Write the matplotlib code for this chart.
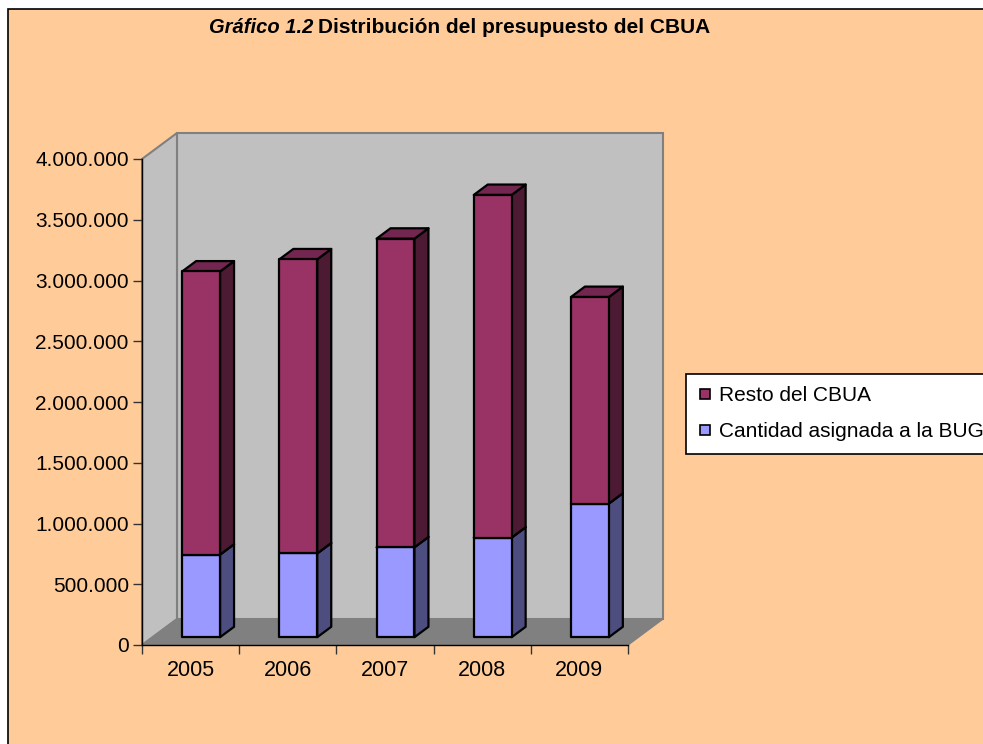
import matplotlib
matplotlib.use("Agg")
from matplotlib import pyplot as plt
from matplotlib.patches import Polygon, Rectangle
from matplotlib.lines import Line2D
from matplotlib.ticker import FixedLocator, FuncFormatter

plt.rcParams["font.family"] = ["Liberation Sans", "DejaVu Sans"]

years = ["2005", "2006", "2007", "2008", "2009"]
bug = [680000, 690000, 740000, 820000, 1100000]  # Cantidad asignada a la BUG
resto = [2330000, 2420000, 2540000, 2820000, 1700000]  # Resto del CBUA
y_ticks = [0, 500000, 1000000, 1500000, 2000000, 2500000, 3000000, 3500000, 4000000]
legend_labels = ["Resto del CBUA", "Cantidad asignada a la BUG"]

# depth of the 3d box (in data units) and where the bars sit in it
DX = 0.36
DY = 214000
F0, F1 = 0.3, 0.7
BAR_W = 0.39

colors = {
    "resto": ("#993366", "#4d1a33", "#73264f"),
    "bug": ("#9999ff", "#4d4d80", "#7373bf"),
}


def shift(pts, f):
    return [(x + f * DX, y + f * DY) for x, y in pts]


def draw_box(ax, x0, x1, y0, y1, cols, z):
    front, side, top = cols
    kw = dict(edgecolor="black", linewidth=1.6, clip_on=False, zorder=z, joinstyle="round")
    face = shift([(x0, y0), (x1, y0), (x1, y1), (x0, y1)], F0)
    right = shift([(x1, y0), (x1, y1)], F0) + shift([(x1, y1), (x1, y0)], F1)
    lid = shift([(x0, y1), (x1, y1)], F0) + shift([(x1, y1), (x0, y1)], F1)
    ax.add_patch(Polygon(right, closed=True, facecolor=side, **kw))
    ax.add_patch(Polygon(lid, closed=True, facecolor=top, **kw))
    ax.add_patch(Polygon(face, closed=True, facecolor=front, **kw))


fig = plt.figure(figsize=(9.83, 7.44), dpi=100, facecolor="white")
fig.add_artist(Rectangle((8 / 983, -0.05), 1.2, 1 - 9 / 744 + 0.05, transform=fig.transFigure,
                         facecolor="#ffcc99", edgecolor="black", linewidth=1.2, zorder=-10))

ax = fig.add_axes([142 / 983, 99 / 744, 486 / 983, 486 / 744])
ax.set_facecolor("none")
n = len(years)
ymax = y_ticks[-1]
ax.set_xlim(0, n)
ax.set_ylim(0, ymax)

wall_kw = dict(clip_on=False, linewidth=1.5, edgecolor="#808080", zorder=1)
ax.add_patch(Polygon(shift([(0, 0), (n, 0), (n, ymax), (0, ymax)], 1), facecolor="#c0c0c0", **wall_kw))
ax.add_patch(Polygon([(0, 0), (0, ymax)] + shift([(0, ymax), (0, 0)], 1), facecolor="#c0c0c0", **wall_kw))
ax.add_patch(Polygon([(0, 0), (n, 0)] + shift([(n, 0), (0, 0)], 1), facecolor="#808080",
                     clip_on=False, linewidth=1.0, edgecolor="#808080", zorder=1))

for i in range(n):
    c = i + 0.5
    x0, x1 = c - BAR_W / 2, c + BAR_W / 2
    draw_box(ax, x0, x1, 0, bug[i], colors["bug"], 3 + i)
    draw_box(ax, x0, x1, bug[i], bug[i] + resto[i], colors["resto"], 3 + i)

for s in ["top", "right"]:
    ax.spines[s].set_visible(False)
for s in ["left", "bottom"]:
    ax.spines[s].set_color("black")
    ax.spines[s].set_linewidth(1.0)
    ax.spines[s].set_zorder(2)

ax.yaxis.set_major_locator(FixedLocator(y_ticks))
ax.yaxis.set_major_formatter(FuncFormatter(lambda v, p: f"{v:,.0f}".replace(",", ".")))
ax.tick_params(axis="y", length=6.5, width=1.0, color="#333333", labelsize=15, pad=3)

ax.xaxis.set_major_locator(FixedLocator(list(range(n + 1))))
ax.xaxis.set_minor_locator(FixedLocator([i + 0.5 for i in range(n)]))
ax.set_xticklabels([""] * (n + 1))
ax.set_xticklabels(years, minor=True)
ax.tick_params(axis="x", which="major", length=6.5, width=1.0, color="#333333")
ax.tick_params(axis="x", which="minor", length=0, labelsize=15.5, pad=11)

fig.text(313 / 983, 1 - 33 / 744, "Gráfico 1.2", ha="right", va="baseline",
         fontsize=14.5, fontweight="bold", fontstyle="italic")
fig.text(318 / 983, 1 - 33 / 744, "Distribución del presupuesto del CBUA", ha="left", va="baseline",
         fontsize=15, fontweight="bold")

handles = [
    Line2D([], [], marker="s", linestyle="", markersize=7, markerfacecolor=colors["resto"][0],
           markeredgecolor="black", markeredgewidth=1.2),
    Line2D([], [], marker="s", linestyle="", markersize=7, markerfacecolor=colors["bug"][0],
           markeredgecolor="black", markeredgewidth=1.2),
]
leg = fig.legend(handles, legend_labels, loc="upper left", bbox_to_anchor=(686 / 983, 1 - 374 / 744),
                 fontsize=15, frameon=True, fancybox=False, framealpha=1, edgecolor="black",
                 handlelength=0.6, handletextpad=0.4, borderpad=0.6, labelspacing=0.8,
                 borderaxespad=0)
leg.get_frame().set_linewidth(1.2)

fig.savefig("out.png", dpi=100)
